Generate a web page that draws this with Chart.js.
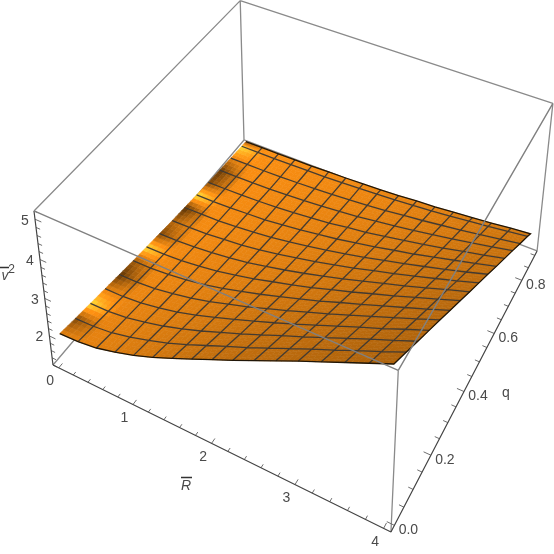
<!DOCTYPE html>
<html><head><meta charset="utf-8">
<style>html,body{margin:0;padding:0;background:#fff}canvas{display:block;filter:blur(.35px)}</style>
<script src="https://cdn.jsdelivr.net/npm/chart.js@4"></script></head>
<body><div style="width:554px;height:554px"><canvas id="c" width="554" height="554"></canvas></div>
<script>
const rTicks=[0,1,2,3,4];
const qTicks=[0,0.2,0.4,0.6,0.8];
const zTicks=[2,3,4,5];
const rRange=[-0.08,4.08];
const qRange=[-0.018,0.918];
const zRange=[1.2,5.2];
const rGrid=[0,.25,.5,.75,1,1.25,1.5,1.75,2,2.25,2.5,2.75,3,3.25,3.5,3.75,4];
const qGrid=[0,.0625,.125,.1875,.25,.3125,.375,.4375,.5,.5625,.625,.6875,.75,.8125,.875,.9];
const zGrid=[
[2.00,2.02,2.09,2.22,2.38,2.57,2.79,3.02,3.25,3.48,3.72,3.96,4.20,4.43,4.66,4.89,5.12],
[1.93,1.95,2.01,2.13,2.28,2.45,2.65,2.87,3.09,3.30,3.53,3.76,3.99,4.21,4.44,4.66,4.89],
[1.87,1.88,1.94,2.05,2.18,2.34,2.52,2.72,2.92,3.13,3.35,3.56,3.78,4.00,4.22,4.43,4.65],
[1.81,1.82,1.87,1.96,2.08,2.23,2.40,2.58,2.77,2.96,3.16,3.37,3.58,3.79,3.99,4.21,4.42],
[1.75,1.76,1.80,1.89,1.99,2.12,2.28,2.44,2.62,2.80,2.99,3.18,3.38,3.58,3.78,3.98,4.19],
[1.69,1.70,1.74,1.81,1.90,2.02,2.16,2.31,2.47,2.64,2.81,3.00,3.18,3.37,3.56,3.75,3.95],
[1.64,1.65,1.68,1.74,1.82,1.93,2.05,2.19,2.33,2.48,2.65,2.81,2.99,3.16,3.35,3.53,3.72],
[1.59,1.60,1.63,1.68,1.75,1.83,1.94,2.06,2.19,2.33,2.48,2.64,2.80,2.96,3.13,3.31,3.48],
[1.54,1.55,1.57,1.62,1.67,1.75,1.84,1.95,2.06,2.19,2.32,2.47,2.61,2.76,2.92,3.08,3.25],
[1.50,1.51,1.52,1.56,1.61,1.67,1.75,1.84,1.94,2.05,2.17,2.30,2.43,2.57,2.71,2.86,3.02],
[1.46,1.46,1.48,1.51,1.54,1.60,1.66,1.74,1.82,1.92,2.02,2.14,2.25,2.38,2.51,2.64,2.78],
[1.42,1.43,1.44,1.46,1.49,1.53,1.58,1.64,1.72,1.79,1.88,1.98,2.08,2.19,2.31,2.42,2.55],
[1.39,1.39,1.40,1.41,1.44,1.47,1.51,1.56,1.61,1.68,1.75,1.83,1.92,2.01,2.11,2.21,2.32],
[1.36,1.36,1.36,1.37,1.39,1.41,1.44,1.48,1.52,1.57,1.63,1.69,1.76,1.83,1.91,1.99,2.08],
[1.33,1.33,1.33,1.34,1.35,1.36,1.38,1.41,1.44,1.47,1.51,1.55,1.60,1.66,1.72,1.78,1.85],
[1.32,1.32,1.32,1.33,1.33,1.35,1.36,1.38,1.40,1.43,1.47,1.50,1.55,1.59,1.64,1.70,1.75]];
const NR=rGrid.length-1,NQ=qGrid.length-1;
const shadeTable=[[.93,.76,.68],[.98,.86,.74],[1.0,.94,.82]];
const leftGlow=[.9,.5,1.35,.9,.36,.6,1.35,.5,.7,.32,1.4,.5,.38,.9,1.35,.55];
function proj(R,q,z){
 const u=(R-rRange[0])/(rRange[1]-rRange[0]),v=(q-qRange[0])/(qRange[1]-qRange[0]),w=(z-zRange[0])/(zRange[1]-zRange[0]);
 const W=1-.116*u+.211*v-.07*w;
 return {x:(53+292.6*u+242.5*v-21.4*w)/W,y:(365+105.3*u-195.5*v-168.8*w)/W};
}
const GAP={x:NaN,y:NaN};
const [r0,r1]=rRange,[q0,q1]=qRange,[zb,zt]=zRange;
const seg=(...p)=>[...p.map(a=>proj(...a)),GAP];
const backBox=[...seg([r0,q1,zb],[r0,q1,zt]),...seg([r1,q1,zb],[r1,q1,zt]),...seg([r0,q0,zb],[r0,q1,zb]),...seg([r0,q1,zb],[r1,q1,zb]),...seg([r0,q1,zt],[r1,q1,zt]),...seg([r0,q0,zt],[r0,q1,zt]),...seg([r1,q0,zb],[r1,q0,zt])];
const frontBox=[...seg([r0,q0,zt],[r1,q0,zt]),...seg([r1,q0,zt],[r1,q1,zt])];
const axes=[...seg([r0,q0,zb],[r1,q0,zb]),...seg([r1,q0,zb],[r1,q1,zb]),...seg([r0,q0,zb],[r0,q0,zt])];
const ticks=[];
const dU=rRange[1]-rRange[0],dV=qRange[1]-qRange[0];
for(let k=0;k<=20;k++){const R=k*.2,m=k%5==0?.016:.011;ticks.push(...seg([R,q0,zb],[R,q0+m*dV,zb]));}
for(let k=0;k<=18;k++){const q=k*.05,m=k%4==0?.02:.013;ticks.push(...seg([r1,q,zb],[r1-m*dU,q,zb]));}
for(let k=0;k<=20;k++){const z=1.2+k*.2;const m=Math.abs(z-Math.round(z))<.01?.02:.013;if(z<=5.2)ticks.push(...seg([r0,q0,z],[r0+m*dU,q0,z]));}
const mesh=[];
for(let j=1;j<NQ;j++){mesh.push(...rGrid.map((R,i)=>proj(R,qGrid[j],zGrid[j][i])),GAP);}
for(let i=1;i<NR;i++){mesh.push(...qGrid.map((q,j)=>proj(rGrid[i],q,zGrid[j][i])),GAP);}
const edge=[...rGrid.map((R,i)=>proj(R,qGrid[0],zGrid[0][i])),...qGrid.map((q,j)=>proj(rGrid[NR],q,zGrid[j][NR])),...rGrid.map((R,i)=>proj(R,qGrid[NQ],zGrid[NQ][i])).reverse()];
function baseShade(fi,fj){
 const a=fi/NR*2,b=fj/NQ*2,ia=Math.min(1,Math.floor(a)),ib=Math.min(1,Math.floor(b)),s=a-ia,t=b-ib;
 const T=shadeTable;
 return (1-s)*(1-t)*T[ib][ia]+s*(1-t)*T[ib][ia+1]+(1-s)*t*T[ib+1][ia]+s*t*T[ib+1][ia+1];
}
function colorFor(fi,fj){
 let B=baseShade(fi,fj);
 if(fi<1.4){const j0=Math.min(NQ-1,Math.floor(fj)),f=fj-j0,g=leftGlow[j0]*(1-f)+leftGlow[j0+1]*f,m=fi/1.4;B=B*m+g*(1-m);}
 let r,gg,bb;
 if(B<=1){r=255*B;gg=145*B;bb=18*B;}else{const e=B-1;r=255;gg=145+e*230;bb=18+e*110;}
 return `rgb(${r|0},${gg|0},${bb|0})`;
}
const surfacePlugin={id:'surface',beforeDatasetDraw(chart,args){
 if(chart.data.datasets[args.index].label!=='mesh')return;
 const {ctx,scales:{x:sx,y:sy}}=chart;const n=4;
 const pt=(fi,fj)=>{
  const i=Math.min(NR-1,Math.floor(fi)),j=Math.min(NQ-1,Math.floor(fj)),s=fi-i,t=fj-j;
  const z=(1-s)*(1-t)*zGrid[j][i]+s*(1-t)*zGrid[j][i+1]+(1-s)*t*zGrid[j+1][i]+s*t*zGrid[j+1][i+1];
  const p=proj(rGrid[i]+s*(rGrid[i+1]-rGrid[i]),qGrid[j]+t*(qGrid[j+1]-qGrid[j]),z);
  return [sx.getPixelForValue(p.x),sy.getPixelForValue(p.y)];
 };
 ctx.save();ctx.lineWidth=.6;
 for(let a=0;a<NR*n;a++)for(let b=0;b<NQ*n;b++){
  const fi=a/n,fj=b/n,d=1/n,c=colorFor(fi+d/2,fj+d/2);
  const P=[pt(fi,fj),pt(fi+d,fj),pt(fi+d,fj+d),pt(fi,fj+d)];
  ctx.beginPath();ctx.moveTo(...P[0]);ctx.lineTo(...P[1]);ctx.lineTo(...P[2]);ctx.lineTo(...P[3]);ctx.closePath();
  ctx.fillStyle=c;ctx.strokeStyle=c;ctx.fill();ctx.stroke();
 }
 ctx.restore();
}};
const FONT='14px "Liberation Sans"',INK='#4a4a4a';
const textPlugin={id:'labels',afterDatasetsDraw(chart){
 const {ctx,scales:{x:sx,y:sy}}=chart;
 const put=(t,p,dx,dy)=>ctx.fillText(t,sx.getPixelForValue(p.x)+dx,sy.getPixelForValue(p.y)+dy);
 ctx.save();ctx.font=FONT;ctx.fillStyle=INK;ctx.textAlign='center';ctx.textBaseline='middle';
 rTicks.forEach(R=>put(String(R),proj(R,q0,zb),-8.5,13.5));
 qTicks.forEach(q=>put(q.toFixed(1),proj(r1,q,zb),14,5));
 zTicks.forEach(z=>put(String(z),proj(r0,q0,z),-10,1.5));
 ctx.fillText('q',506,393);
 ctx.font='italic 14px "Liberation Sans"';
 ctx.fillText('R',186,486);
 ctx.fillText('v',5,276);
 ctx.font='12px "Liberation Sans"';ctx.fillText('2',11.5,270);
 ctx.strokeStyle='#333';ctx.lineWidth=1.4;
 ctx.beginPath();ctx.moveTo(181,477.5);ctx.lineTo(192,477.5);ctx.moveTo(0,267.5);ctx.lineTo(9,267.5);ctx.stroke();
 ctx.restore();
}};
const line=(label,data,color,width,order)=>({label,data,borderColor:color,borderWidth:width,showLine:true,pointRadius:0,fill:false,order,tension:0});
new Chart(document.getElementById('c'),{type:'scatter',plugins:[surfacePlugin,textPlugin],
 data:{datasets:[
  line('backBox',backBox,'#8a8a8a',1.3,6),
  line('axes',axes,'#444',1.2,5),
  line('ticks',ticks,'#6e6e6e',1,5),
  line('mesh',mesh,'rgba(60,56,52,.95)',1.3,3),
  line('edge',edge,'#201608',1.3,2),
  line('frontBox',frontBox,'#808080',1.4,1)]},
 options:{responsive:false,animation:false,events:[],layout:{padding:0},
  plugins:{legend:{display:false},tooltip:{enabled:false}},
  scales:{x:{type:'linear',min:0,max:554,display:false},y:{type:'linear',min:0,max:554,reverse:true,display:false}}}});
</script></body></html>
